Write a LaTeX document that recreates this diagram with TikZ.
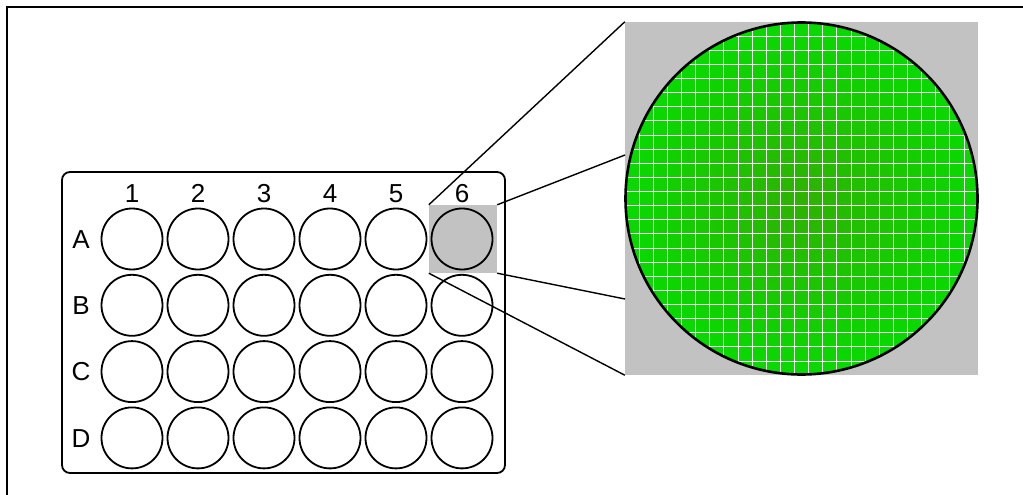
\documentclass[tikz,border=0pt]{standalone}
\usepackage{fontspec}
\setmainfont{Liberation Sans}
\usetikzlibrary{positioning}

\definecolor{wellgray}{RGB}{194,194,194}
\definecolor{cellgreen}{RGB}{8,218,0}
\definecolor{cellcore}{RGB}{46,178,0}

\begin{document}
\begin{tikzpicture}[x=1pt, y=-1pt,
    well/.style={circle, draw, line width=1.8pt, minimum size=61pt, inner sep=0pt},
    lbl/.style={font=\fontsize{26}{30}\selectfont, inner sep=0pt,
      text height=18.6pt, text depth=0pt},
    zoomline/.style={line width=1.4pt},
    gridline/.style={white, line width=0.7pt}]
    \useasboundingbox (0,0) rectangle (1023,495);
    % outer frame, only top and left edges show
    \draw[line width=2pt] (1023,7) -- (7,7) -- (7,495);
    % plate outline
    \draw[line width=1.8pt, rounded corners=8pt] (62,172) rectangle (505,473);
    % selected well
    \node[fill=wellgray, minimum size=68pt, inner sep=0pt] (sel) at (463,239) {};
    % wells and row labels
    \foreach \r [count=\i from 0] in {A,B,C,D} {
      \node[lbl] (row\r) at (81,{239+66.3*\i}) {\r};
      \foreach \c in {1,...,6}
        \node[well] (\r\c) at ({132+66*(\c-1)},{239+66.3*\i}) {};
    }
    % column labels
    \foreach \c in {1,...,6}
      \node[lbl] (col\c) at ({132+66*(\c-1)},193) {\c};
    % magnified view
    \coordinate (z1) at (625,155);
    \coordinate (z2) at (625,299);
    \node[fill=wellgray, minimum size=353pt, inner sep=0pt] (zoom) at (801.5,198.5) {};
    \draw[zoomline] (sel.north west) -- (zoom.north west);
    \draw[zoomline] (sel.north east) -- (z1);
    \draw[zoomline] (sel.south east) -- (z2);
    \draw[zoomline] (sel.south west) -- (zoom.south west);
    \begin{scope}
      \clip (zoom.center) circle (175);
      \shade[inner color=cellcore, outer color=cellgreen] (zoom.center) circle (176);
      \foreach \k in {1,...,24} {
        \draw[gridline] ({625+14.12*\k},22) -- ++(0,353);
        \draw[gridline] (625,{22+14.12*\k}) -- ++(353,0);
      }
    \end{scope}
    \draw[line width=2.6pt] (zoom.center) circle (176);
\end{tikzpicture}
\end{document}
